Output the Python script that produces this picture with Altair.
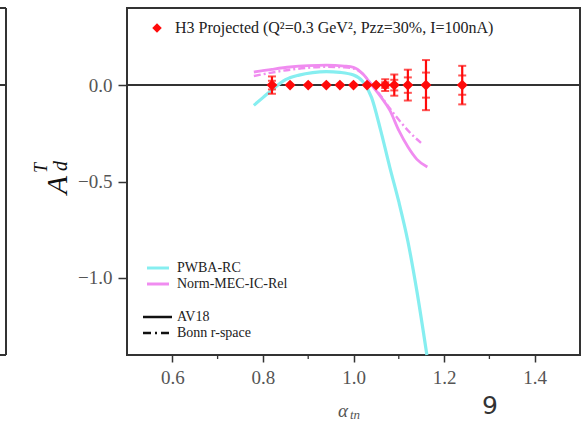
import altair as alt
import pandas as pd

# ---- data ----
# PWBA-RC (AV18) curve
pwba_x = [0.78, 0.80, 0.82, 0.85, 0.88, 0.91, 0.94, 0.97, 1.00, 1.02, 1.04, 1.06, 1.08, 1.10, 1.12, 1.14, 1.162]
pwba_y = [-0.105, -0.065, -0.025, 0.028, 0.052, 0.065, 0.070, 0.066, 0.052, 0.020, -0.065, -0.235, -0.425, -0.605, -0.810, -1.070, -1.400]

# Norm-MEC-IC-Rel (AV18) curve
norm_av_x = [0.78, 0.82, 0.86, 0.90, 0.94, 0.98, 1.00, 1.02, 1.04, 1.06, 1.08, 1.10, 1.12, 1.14, 1.163]
norm_av_y = [0.068, 0.082, 0.094, 0.101, 0.104, 0.099, 0.092, 0.060, 0.000, -0.060, -0.130, -0.235, -0.320, -0.385, -0.425]

# Norm-MEC-IC-Rel (Bonn r-space) curve
norm_bonn_x = [0.78, 0.82, 0.86, 0.90, 0.94, 0.98, 1.00, 1.02, 1.04, 1.06, 1.08, 1.10, 1.12, 1.149]
norm_bonn_y = [0.047, 0.065, 0.080, 0.090, 0.095, 0.092, 0.086, 0.058, 0.005, -0.055, -0.120, -0.180, -0.235, -0.300]

# H3 projected points (A = 0) with uncertainties
pts_x = [0.82, 0.86, 0.90, 0.94, 0.97, 1.00, 1.03, 1.05, 1.07, 1.09, 1.12, 1.16, 1.24]
pts_y = [0.0] * 13
pts_err = [0.045, 0.02, 0.015, 0.015, 0.015, 0.015, 0.015, 0.02, 0.03, 0.055, 0.08, 0.13, 0.10]

x_major = [0.6, 0.8, 1.0, 1.2, 1.4]
x_minor = [0.7, 0.9, 1.1, 1.3]
y_major = [0.0, -0.5, -1.0]

CYAN = "#86eef0"
MAGENTA = "#f08cf0"
RED = "#ff0a0a"
FRAME = "#333333"
SERIF = "Liberation Serif"

W, H = 453, 347

xs = alt.Scale(domain=[0.5, 1.5], nice=False, zero=False)
ys = alt.Scale(domain=[-1.4, 0.4], nice=False, zero=False)
x_axis = alt.Axis(values=x_major, format=".1f", tickSize=7, labelPadding=6)
y_axis = alt.Axis(values=y_major, tickSize=9, labelPadding=6,
                  labelExpr="datum.value == 0 ? '0.0' : '\u2212' + format(abs(datum.value), '.1f')")


def X(field="x"):
    return alt.X(f"{field}:Q", scale=xs, axis=x_axis, title=None)


def Y(field="y"):
    return alt.Y(f"{field}:Q", scale=ys, axis=y_axis, title=None)


dummy = pd.DataFrame({"d": [0]})

pwba = pd.DataFrame({"x": pwba_x, "y": pwba_y})
norm_av = pd.DataFrame({"x": norm_av_x, "y": norm_av_y})
norm_bonn = pd.DataFrame({"x": norm_bonn_x, "y": norm_bonn_y})
pts = pd.DataFrame({"x": pts_x, "y": pts_y, "err": pts_err})
pts["lo"] = pts["y"] - pts["err"]
pts["hi"] = pts["y"] + pts["err"]

caps_rows = []
for xv, yv, ev in zip(pts_x, pts_y, pts_err):
    if ev >= 0.03:
        for f in (1.0, -1.0, 0.5, -0.5):
            caps_rows.append({"x": xv, "y": yv + f * ev})
caps = pd.DataFrame(caps_rows)

layers = []

# zero line
layers.append(alt.Chart(dummy).mark_rule(color=FRAME, strokeWidth=2).encode(
    y=alt.datum(0.0, scale=ys, axis=y_axis, title=None), x=alt.value(0), x2=alt.value(W)))

# minor x ticks
layers.append(alt.Chart(pd.DataFrame({"x": x_minor})).mark_rule(color=FRAME, strokeWidth=1.3).encode(
    x=X(), y=alt.value(H), y2=alt.value(H + 4)))

# curves
layers.append(alt.Chart(pwba).mark_line(color=CYAN, strokeWidth=3.2, interpolate="monotone").encode(x=X(), y=Y()))
layers.append(alt.Chart(norm_av).mark_line(color=MAGENTA, strokeWidth=2.8, interpolate="monotone").encode(x=X(), y=Y()))
layers.append(alt.Chart(norm_bonn).mark_line(color=MAGENTA, strokeWidth=2.4, strokeDash=[7, 3, 2, 3],
                                             interpolate="monotone").encode(x=X(), y=Y()))

# error bars and points
layers.append(alt.Chart(pts).mark_rule(color=RED, strokeWidth=2.2).encode(x=X(), y=Y("lo"), y2="hi"))
layers.append(alt.Chart(caps).mark_tick(color=RED, orient="horizontal", size=8, thickness=2).encode(x=X(), y=Y()))
layers.append(alt.Chart(pts).mark_point(shape="diamond", filled=True, color=RED, size=120, opacity=1).encode(
    x=X(), y=Y()))

# top legend
layers.append(alt.Chart(dummy).mark_point(shape="diamond", filled=True, color=RED, size=90, opacity=1).encode(
    x=alt.value(30), y=alt.value(20)))
layers.append(alt.Chart(dummy).mark_text(
    text="H3 Projected (Q\u00b2=0.3 GeV\u00b2, Pzz=30%, I=100nA)", font=SERIF, fontSize=16,
    color="#222222", align="left", baseline="middle").encode(x=alt.value(48), y=alt.value(20)))

# bottom legend
legend_lines = [
    (20, 42, 260, CYAN, 3, None),
    (20, 42, 276, MAGENTA, 3, None),
    (16, 45, 309, "#111111", 2.5, None),
    (16, 45, 325, "#111111", 2.5, [8, 4, 2, 4]),
]
for x1, x2, yy, col, sw, dash in legend_lines:
    kw = dict(color=col, strokeWidth=sw)
    if dash:
        kw["strokeDash"] = dash
    layers.append(alt.Chart(dummy).mark_rule(**kw).encode(x=alt.value(x1), x2=alt.value(x2), y=alt.value(yy)))

legend_texts = [("PWBA-RC", 260), ("Norm-MEC-IC-Rel", 276), ("AV18", 309), ("Bonn r-space", 325)]
for txt, yy in legend_texts:
    layers.append(alt.Chart(dummy).mark_text(text=txt, font=SERIF, fontSize=14, color="#222222",
                                             align="left", baseline="middle").encode(
        x=alt.value(50), y=alt.value(yy)))

# axis titles (A_d^T and alpha_tn)
layers.append(alt.Chart(dummy).mark_text(text="A", font=SERIF, fontStyle="italic", fontSize=30, color="#111111",
                                         angle=270, align="center", baseline="middle").encode(
    x=alt.value(-69), y=alt.value(177)))
layers.append(alt.Chart(dummy).mark_text(text="d", font=SERIF, fontStyle="italic", fontSize=20, color="#111111",
                                         angle=270, align="center", baseline="middle").encode(
    x=alt.value(-66), y=alt.value(158)))
layers.append(alt.Chart(dummy).mark_text(text="T", font=SERIF, fontStyle="italic", fontSize=18, color="#111111",
                                         angle=270, align="center", baseline="middle").encode(
    x=alt.value(-85), y=alt.value(160)))
layers.append(alt.Chart(dummy).mark_text(text="\u03b1", font=SERIF, fontStyle="italic", fontSize=19, color="#555555",
                                         align="center", baseline="middle").encode(
    x=alt.value(216), y=alt.value(403)))
layers.append(alt.Chart(dummy).mark_text(text="tn", font=SERIF, fontStyle="italic", fontSize=13, color="#555555",
                                         align="left", baseline="middle").encode(
    x=alt.value(223), y=alt.value(407)))

# page number
layers.append(alt.Chart(dummy).mark_text(text="9", font="DejaVu Sans", fontSize=25, color="#333333",
                                         align="center", baseline="alphabetic").encode(
    x=alt.value(363), y=alt.value(406)))

# neighbouring panel edge (left)
layers.append(alt.Chart(dummy).mark_rule(color=FRAME, strokeWidth=2).encode(
    x=alt.value(-121), y=alt.value(0), y2=alt.value(H)))
for yy in (0, 77, H):
    layers.append(alt.Chart(dummy).mark_rule(color=FRAME, strokeWidth=2).encode(
        x=alt.value(-127), x2=alt.value(-121), y=alt.value(yy)))

chart = alt.layer(*layers).properties(
    width=W, height=H,
    autosize=alt.AutoSizeParams(type="none"),
    padding={"left": 127, "top": 8, "right": 5, "bottom": 66},
).configure_view(
    stroke=FRAME, strokeWidth=2
).configure_axis(
    domain=False, grid=False, tickColor=FRAME, tickWidth=1.5,
    labelFont=SERIF, labelFontSize=19, labelColor="#555555",
)

chart.save("out.html", embed_options={"renderer": "svg", "actions": False})
